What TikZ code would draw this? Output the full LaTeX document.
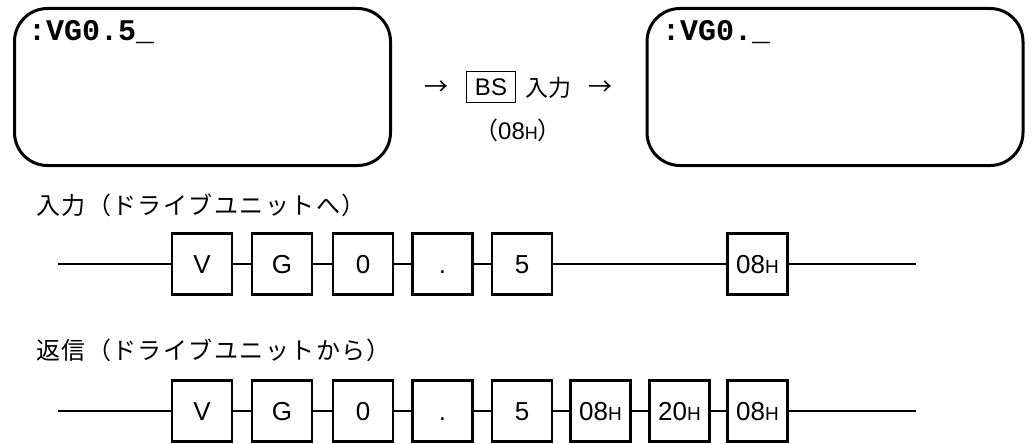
\documentclass[tikz,border=0pt]{standalone}
\usepackage{fontspec}
\setmainfont{Liberation Sans}
\newfontfamily\jpfont{Noto Sans CJK JP}
\newfontfamily\jplabel[LetterSpace=6]{Noto Sans CJK JP}
\newfontfamily\monofont{Liberation Mono}
\newcommand\cellH{{\fontsize{19}{19}\selectfont H}}
\newcommand\midH{{\fontsize{18}{18}\selectfont H}}
\begin{document}
\begin{tikzpicture}[x=1pt,y=-1pt,
  screen/.style={draw, line width=3pt, rounded corners=33pt, minimum width=376pt, minimum height=157pt, inner sep=0pt},
  scrtext/.style={anchor=base west, inner sep=0pt, font=\monofont\bfseries\fontsize{30}{30}\selectfont},
  cell/.style={draw, line width=2.5pt, minimum width=60pt, minimum height=61pt, inner sep=0pt, text height=18.6pt, text depth=0pt, font=\fontsize{26}{26}\selectfont},
  wire/.style={line width=2pt},
  midtext/.style={inner sep=0pt, font=\fontsize{24}{24}\selectfont},
  label/.style={anchor=west, inner sep=0pt, font=\jplabel\fontsize{24}{24}\selectfont}]
\useasboundingbox (0,0) rectangle (1033,444);
% screens
\node[screen] (scrL) at (202.5,87) {};
\node[screen] (scrR) at (835,87) {};
\node[scrtext] (txtL) at (28,41) {:VG0.5\_};
\node[scrtext] (txtR) at (662,41) {:VG0.\_};
% middle
\node[midtext, font=\jpfont\fontsize{24}{24}\selectfont] (arrL) at (436,88) {→};
\node[midtext, draw, line width=1.3pt, minimum width=49pt, minimum height=31pt] (bs) at (491,87) {BS};
\node[midtext, font=\jpfont\fontsize{23}{23}\selectfont] (nyu) at (548,88) {入力};
\node[midtext, font=\jpfont\fontsize{24}{24}\selectfont] (arrR) at (600,88) {→};
\node[midtext] (code) at (518,130) {{\jpfont （}08\midH{\jpfont ）}};
% labels
\node[label] (lab1) at (36,205) {入力（ドライブユニットへ）};
\node[label] (lab2) at (36,350) {返信（ドライブユニットから）};
% row 1
\coordinate (s1) at (58,264);
\coordinate (e1) at (916,264);
\node[cell] (a1) at (202,264) {V};
\node[cell] (b1) at (282,264) {G};
\node[cell] (c1) at (363,264) {0};
\node[cell] (d1) at (442.5,264) {.};
\node[cell] (f1) at (522,264) {5};
\node[cell] (g1) at (757.5,264) {08\cellH};
\draw[wire] (s1) -- (a1.west);
\draw[wire] (a1.east) -- (b1.west);
\draw[wire] (b1.east) -- (c1.west);
\draw[wire] (c1.east) -- (d1.west);
\draw[wire] (d1.east) -- (f1.west);
\draw[wire] (f1.east) -- (g1.west);
\draw[wire] (g1.east) -- (e1);
% row 2
\coordinate (s2) at (58,411);
\coordinate (e2) at (916,411);
\node[cell] (a2) at (202,411) {V};
\node[cell] (b2) at (282,411) {G};
\node[cell] (c2) at (363,411) {0};
\node[cell] (d2) at (442.5,411) {.};
\node[cell] (f2) at (522,411) {5};
\node[cell] (g2) at (600.5,411) {08\cellH};
\node[cell] (h2) at (679.5,411) {20\cellH};
\node[cell] (i2) at (757.5,411) {08\cellH};
\draw[wire] (s2) -- (a2.west);
\draw[wire] (a2.east) -- (b2.west);
\draw[wire] (b2.east) -- (c2.west);
\draw[wire] (c2.east) -- (d2.west);
\draw[wire] (d2.east) -- (f2.west);
\draw[wire] (f2.east) -- (g2.west);
\draw[wire] (g2.east) -- (h2.west);
\draw[wire] (h2.east) -- (i2.west);
\draw[wire] (i2.east) -- (e2);
\end{tikzpicture}
\end{document}
